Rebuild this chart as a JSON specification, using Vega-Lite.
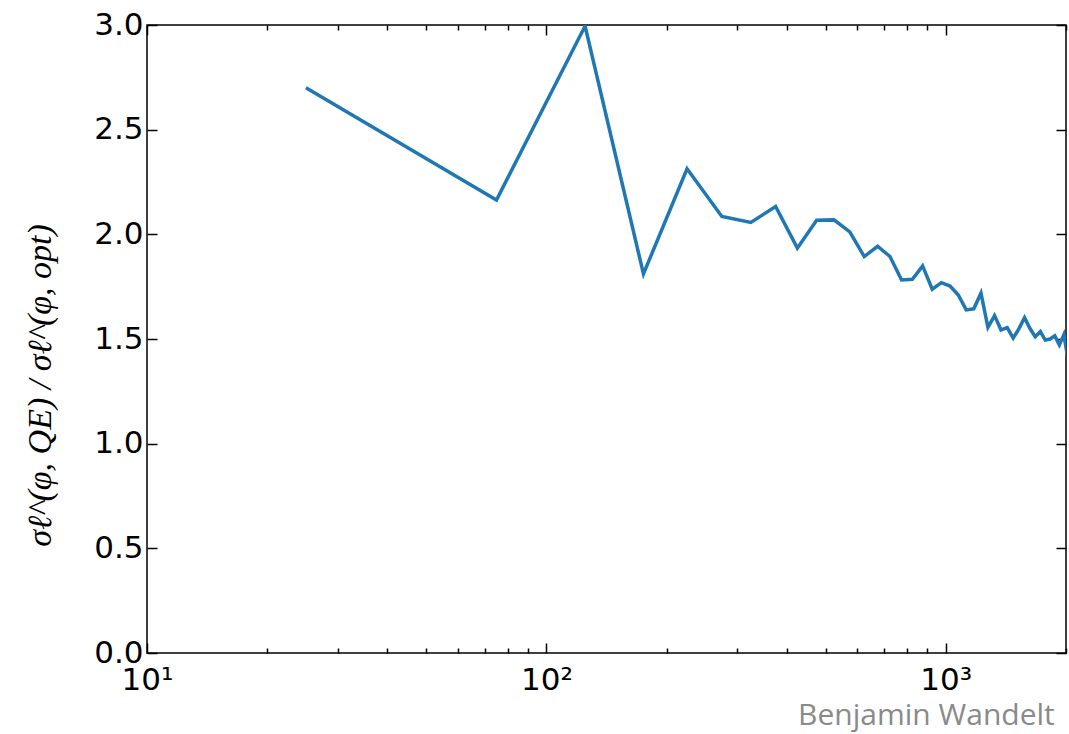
{
  "$schema": "https://vega.github.io/schema/vega-lite/v6.json",
  "width": 919,
  "height": 628,
  "autosize": {"type": "none"},
  "padding": {"left": 147, "top": 25, "right": 3, "bottom": 81},
  "background": "white",
  "data": {
    "values": [
      {"ell": 25, "ratio": 2.70},
      {"ell": 75, "ratio": 2.164},
      {"ell": 125, "ratio": 2.995},
      {"ell": 175, "ratio": 1.811},
      {"ell": 225, "ratio": 2.313},
      {"ell": 275, "ratio": 2.085},
      {"ell": 325, "ratio": 2.057},
      {"ell": 375, "ratio": 2.133},
      {"ell": 425, "ratio": 1.934},
      {"ell": 475, "ratio": 2.067},
      {"ell": 525, "ratio": 2.069},
      {"ell": 575, "ratio": 2.012},
      {"ell": 625, "ratio": 1.894},
      {"ell": 675, "ratio": 1.943},
      {"ell": 725, "ratio": 1.894},
      {"ell": 775, "ratio": 1.782},
      {"ell": 825, "ratio": 1.785},
      {"ell": 875, "ratio": 1.849},
      {"ell": 925, "ratio": 1.738},
      {"ell": 975, "ratio": 1.769},
      {"ell": 1025, "ratio": 1.753},
      {"ell": 1075, "ratio": 1.71},
      {"ell": 1125, "ratio": 1.639},
      {"ell": 1175, "ratio": 1.644},
      {"ell": 1225, "ratio": 1.719},
      {"ell": 1275, "ratio": 1.556},
      {"ell": 1325, "ratio": 1.612},
      {"ell": 1375, "ratio": 1.543},
      {"ell": 1425, "ratio": 1.554},
      {"ell": 1475, "ratio": 1.504},
      {"ell": 1525, "ratio": 1.55},
      {"ell": 1575, "ratio": 1.602},
      {"ell": 1625, "ratio": 1.55},
      {"ell": 1675, "ratio": 1.511},
      {"ell": 1725, "ratio": 1.535},
      {"ell": 1775, "ratio": 1.495},
      {"ell": 1825, "ratio": 1.50},
      {"ell": 1875, "ratio": 1.515},
      {"ell": 1925, "ratio": 1.472},
      {"ell": 1975, "ratio": 1.52},
      {"ell": 2025, "ratio": 1.40}
    ]
  },
  "config": {
    "view": {"stroke": "black", "strokeWidth": 1.5},
    "axis": {
      "grid": false,
      "domain": false,
      "tickColor": "black",
      "tickWidth": 1.5,
      "labelColor": "black",
      "labelFont": "DejaVu Sans",
      "labelFontSize": 31
    }
  },
  "title": {
    "text": "Benjamin Wandelt",
    "orient": "bottom",
    "anchor": "end",
    "color": "#8a8a8a",
    "font": "Open Sans",
    "fontSize": 30,
    "fontWeight": "normal",
    "offset": 6,
    "dx": -12
  },
  "layer": [
    {
      "mark": {"type": "line", "color": "#1f77b4", "strokeWidth": 3.5, "clip": true},
      "encoding": {
        "x": {
          "field": "ell",
          "type": "quantitative",
          "scale": {"type": "log", "domain": [10, 2000], "nice": false},
          "axis": {
            "orient": "bottom",
            "title": null,
            "values": [10, 100, 1000],
            "labelExpr": "datum.value == 10 ? '10¹' : datum.value == 100 ? '10²' : '10³'",
            "tickSize": -10,
            "labelPadding": 22,
            "labelFlush": false,
            "labelOverlap": false
          }
        },
        "y": {
          "field": "ratio",
          "type": "quantitative",
          "scale": {"domain": [0, 3], "nice": false, "zero": false},
          "axis": {
            "orient": "left",
            "values": [0, 0.5, 1, 1.5, 2, 2.5, 3],
            "format": ".1f",
            "tickSize": -10,
            "labelPadding": 14,
            "labelFlush": false,
            "labelOverlap": false,
            "title": "σℓ^(φ, QE) / σℓ^(φ, opt)",
            "titleFont": "Liberation Serif",
            "titleFontSize": 34,
            "titleFontWeight": "normal",
            "titleFontStyle": "italic",
            "titleColor": "black",
            "titlePadding": 36,
            "titleY": 360
          }
        }
      }
    },
    {
      "mark": {"type": "line", "opacity": 0, "clip": true},
      "encoding": {
        "x": {
          "field": "ell",
          "type": "quantitative",
          "axis": {
            "orient": "bottom",
            "title": null,
            "values": [20, 30, 40, 50, 60, 70, 80, 90, 200, 300, 400, 500, 600, 700, 800, 900, 2000],
            "labels": false,
            "tickSize": -5
          }
        },
        "y": {
          "field": "ratio",
          "type": "quantitative",
          "axis": {
            "orient": "right",
            "values": [0, 0.5, 1, 1.5, 2, 2.5, 3],
            "labels": false,
            "tickSize": -10,
            "title": null
          }
        }
      }
    },
    {
      "mark": {"type": "line", "opacity": 0, "clip": true},
      "encoding": {
        "x": {
          "field": "ell",
          "type": "quantitative",
          "axis": {
            "orient": "top",
            "title": null,
            "values": [10, 100, 1000],
            "labels": false,
            "tickSize": -10
          }
        },
        "y": {"field": "ratio", "type": "quantitative", "axis": null}
      }
    },
    {
      "mark": {"type": "line", "opacity": 0, "clip": true},
      "encoding": {
        "x": {
          "field": "ell",
          "type": "quantitative",
          "axis": {
            "orient": "top",
            "title": null,
            "values": [20, 30, 40, 50, 60, 70, 80, 90, 200, 300, 400, 500, 600, 700, 800, 900, 2000],
            "labels": false,
            "tickSize": -5
          }
        },
        "y": {"field": "ratio", "type": "quantitative", "axis": null}
      }
    }
  ],
  "resolve": {"axis": {"x": "independent", "y": "independent"}}
}
